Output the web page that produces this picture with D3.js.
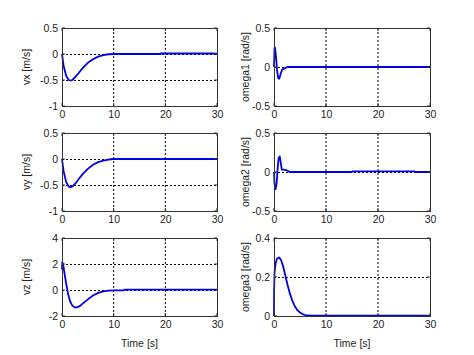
<!DOCTYPE html>
<html><head><meta charset="utf-8">
<script src="https://cdn.jsdelivr.net/npm/d3@7"></script>
<style>
body{margin:0;background:#fff;}
text{font-family:"Liberation Sans",Arial,sans-serif;font-size:10.5px;fill:#222;}
</style></head><body>
<svg id="c" width="474" height="355"></svg>
<script>
// Time axis
const xTicks = [0, 10, 20, 30];

// vx [m/s]
const vxT = [0, 0.3, 0.8, 1.3, 1.6, 2.0, 2.6, 3.2, 4, 5, 6, 7, 8, 9, 10, 19, 19.05, 29, 30];
const vxV = [0, -0.22, -0.42, -0.5, -0.51, -0.5, -0.44, -0.37, -0.27, -0.17, -0.1, -0.05, -0.02, -0.005, 0, 0, 0.01, 0.01, 0.005];
// vy [m/s]
const vyT = [0, 0.3, 0.8, 1.3, 1.6, 2.0, 2.6, 3.2, 4, 5, 6, 7, 8, 9, 10, 30];
const vyV = [0, -0.23, -0.44, -0.53, -0.54, -0.53, -0.47, -0.39, -0.29, -0.19, -0.11, -0.06, -0.03, -0.01, 0, 0];
// vz [m/s]
const vzT = [0, 0.05, 0.2, 0.4, 0.8, 1.2, 1.6, 2.0, 2.5, 3, 3.5, 4, 5, 6, 7, 8, 9, 10, 12, 12.1, 30];
const vzV = [1.6, 2.15, 2.0, 1.5, 0.5, -0.35, -0.9, -1.2, -1.35, -1.32, -1.22, -1.05, -0.72, -0.42, -0.22, -0.1, -0.05, -0.03, -0.02, 0.03, 0.03];
// omega1 [rad/s]
const w1T = [0, 0.1, 0.2, 0.4, 0.6, 0.8, 1.0, 1.3, 1.6, 2.0, 2.5, 30];
const w1V = [0, 0.24, 0.25, 0.12, -0.05, -0.14, -0.15, -0.08, -0.03, -0.02, 0, 0];
// omega2 [rad/s]
const w2T = [0, 0.1, 0.3, 0.5, 0.7, 0.9, 1.1, 1.3, 1.5, 1.8, 2.5, 2.8, 3.0, 15, 15.1, 27, 27.1, 30];
const w2V = [0, -0.15, -0.22, -0.15, 0.05, 0.18, 0.2, 0.12, 0.03, 0.03, 0.02, 0.01, 0, 0, 0.008, 0.008, 0, 0];
// omega3 [rad/s]
const w3T = [0, 0.02, 0.1, 0.3, 0.6, 1.0, 1.4, 1.8, 2.2, 2.6, 3.0, 3.5, 4, 4.5, 5, 5.5, 6, 7, 30];
const w3V = [0, 0.12, 0.22, 0.27, 0.295, 0.3, 0.285, 0.25, 0.205, 0.16, 0.12, 0.08, 0.05, 0.03, 0.018, 0.01, 0.005, 0.002, 0.002];

const panels = [
  {t: vxT, v: vxV, y: [-1, 0.5], ticks: [-1, -0.5, 0, 0.5], label: "vx [m/s]", col: 0, row: 0},
  {t: w1T, v: w1V, y: [-0.5, 0.5], ticks: [-0.5, 0, 0.5], label: "omega1 [rad/s]", col: 1, row: 0},
  {t: vyT, v: vyV, y: [-1, 0.5], ticks: [-1, -0.5, 0, 0.5], label: "vy [m/s]", col: 0, row: 1},
  {t: w2T, v: w2V, y: [-0.5, 0.5], ticks: [-0.5, 0, 0.5], label: "omega2 [rad/s]", col: 1, row: 1},
  {t: vzT, v: vzV, y: [-2, 4], ticks: [-2, 0, 2, 4], label: "vz [m/s]", col: 0, row: 2},
  {t: w3T, v: w3V, y: [0, 0.4], ticks: [0, 0.2, 0.4], label: "omega3 [rad/s]", col: 1, row: 2}
];

const svg = d3.select("#c");
const colX = [[62, 217], [274, 430]];
const rowY = [[28, 106], [133, 211], [238, 316]];
const labelX = [30, 249];

panels.forEach(p => {
  const [x0, x1] = colX[p.col];
  const [y0, y1] = rowY[p.row];
  const x = d3.scaleLinear().domain([0, 30]).range([x0, x1]);
  const y = d3.scaleLinear().domain(p.y).range([y1, y0]);
  const g = svg.append("g");
  // grid
  xTicks.slice(1, -1).forEach(tv => {
    g.append("line").attr("x1", x(tv)).attr("x2", x(tv)).attr("y1", y0).attr("y2", y1)
      .attr("stroke", "#000").attr("stroke-width", 1).attr("stroke-dasharray", "2,2");
  });
  p.ticks.slice(1, -1).forEach(tv => {
    g.append("line").attr("x1", x0).attr("x2", x1).attr("y1", Math.round(y(tv)) + 0.5).attr("y2", Math.round(y(tv)) + 0.5)
      .attr("stroke", "#000").attr("stroke-width", 1).attr("stroke-dasharray", "2,2");
  });
  // line
  const line = d3.line().x((d, i) => x(p.t[i])).y(d => y(d));
  g.append("path").datum(p.v).attr("d", line).attr("fill", "none")
    .attr("stroke", "#0000e6").attr("stroke-width", 1.8).attr("stroke-linejoin", "round");
  // frame
  g.append("rect").attr("x", x0 + 0.5).attr("y", y0 + 0.5).attr("width", x1 - x0).attr("height", y1 - y0)
    .attr("fill", "none").attr("stroke", "#333").attr("stroke-width", 1);
  // axes
  const ax = g.append("g").attr("transform", `translate(0,${y1})`)
    .call(d3.axisBottom(x).tickValues(xTicks).tickSize(0).tickPadding(5));
  ax.select(".domain").remove();
  ax.selectAll("text").attr("font-size", "10.5px").attr("fill", "#222");
  const ay = g.append("g").attr("transform", `translate(${x0},0)`)
    .call(d3.axisLeft(y).tickValues(p.ticks).tickSize(0).tickPadding(4).tickFormat(d => String(d)));
  ay.select(".domain").remove();
  ay.selectAll("text").attr("font-size", "10.5px").attr("fill", "#222");
  // inward ticks
  xTicks.forEach(tv => {
    g.append("line").attr("x1", x(tv)).attr("x2", x(tv)).attr("y1", y1).attr("y2", y1 - 3).attr("stroke", "#333");
    g.append("line").attr("x1", x(tv)).attr("x2", x(tv)).attr("y1", y0).attr("y2", y0 + 3).attr("stroke", "#333");
  });
  p.ticks.forEach(tv => {
    g.append("line").attr("x1", x0).attr("x2", x0 + 3).attr("y1", y(tv)).attr("y2", y(tv)).attr("stroke", "#333");
    g.append("line").attr("x1", x1).attr("x2", x1 - 3).attr("y1", y(tv)).attr("y2", y(tv)).attr("stroke", "#333");
  });
  // y label
  g.append("text").attr("transform", `translate(${labelX[p.col]},${(y0 + y1) / 2}) rotate(-90)`)
    .attr("text-anchor", "middle").text(p.label);
  if (p.row === 2) {
    g.append("text").attr("x", (x0 + x1) / 2).attr("y", 347).attr("text-anchor", "middle").text("Time [s]");
  }
});
</script></body></html>
